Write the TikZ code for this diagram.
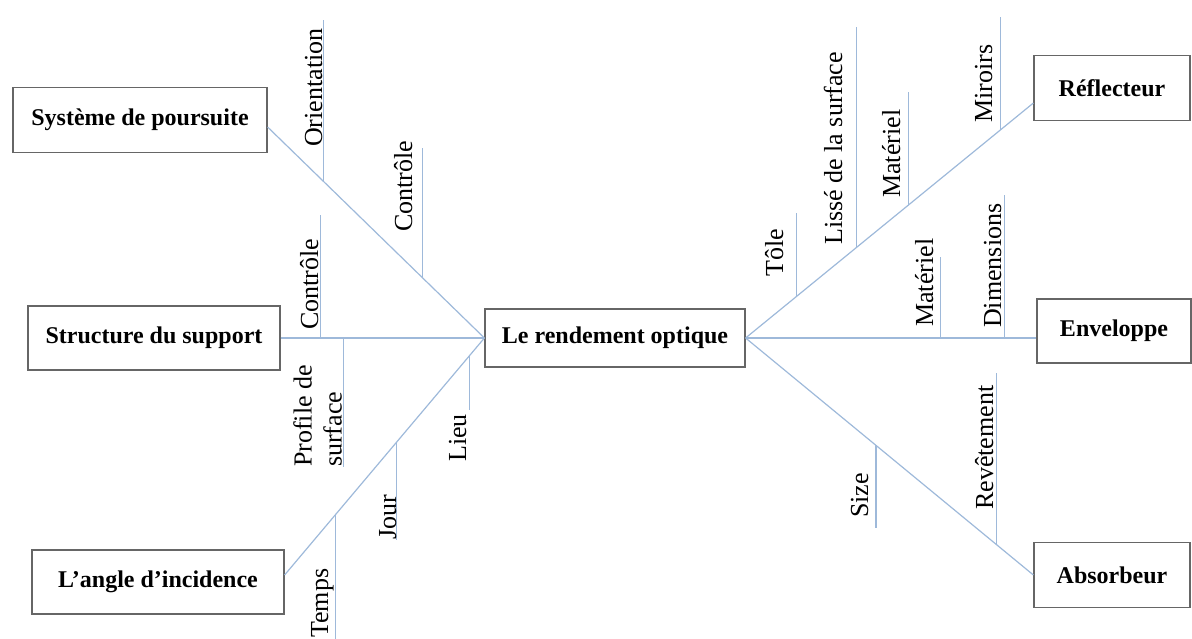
\documentclass[tikz,border=0pt]{standalone}
\usepackage{fontspec}
\setmainfont{Liberation Serif}
\usepackage{tikz}
\usetikzlibrary{
	calc,
	positioning,
}
\definecolor{bonecolor}{RGB}{158,185,218}
\tikzset{cause node/.style={
	draw=black!60,
	rectangle,
	line width=1.2pt,
	inner sep=0mm,
	minimum height=64pt,
	font=\fontsize{24}{26}\selectfont\bfseries,
},
sub node/.style={
	rotate=90,
	anchor=base west,
	inner sep=0mm,
	font=\fontsize{26}{30}\selectfont,
},
bone/.style={
	bonecolor,
	line width=1.2pt,
}}

\begin{document}
\begin{tikzpicture}[x=1pt,y=-1pt]
\useasboundingbox (0,0) rectangle (1192,639);

\node[cause node, minimum width=260pt, minimum height=58pt](eff) at (615,338) {Le rendement optique};

\node[cause node, minimum width=254pt, minimum height=65pt](sys) at (140,120) {Système de poursuite};
\node[cause node, minimum width=252pt](sup) at (154,338) {Structure du support};
\node[cause node, minimum width=252pt](ang) at (158,582) {L’angle d’incidence};
\node[cause node, minimum width=156pt, minimum height=65pt](refl) at (1112,88) {Réflecteur};
\node[cause node, minimum width=154pt](env) at (1114,331) {Enveloppe};
\node[cause node, minimum width=156pt, minimum height=65pt](abs) at (1112,575) {Absorbeur};

\coordinate (sysA) at ([yshift=-7pt]sys.east);
\coordinate (angA) at ([yshift=7pt]ang.east);
\coordinate (reflA) at ([yshift=-15pt]refl.west);
\coordinate (envA) at (eff.east -| env.west);

\draw[bone] (sysA) -- (eff.west);
\draw[bone] (sup.east) -- (eff.west);
\draw[bone] (angA) -- (eff.west);
\draw[bone] (eff.east) -- (reflA);
\draw[bone] (eff.east) -- (envA);
\draw[bone] (eff.east) -- (abs.west);

\foreach \n/\a/\b/\t/\y in {
	orient/sysA/eff.west/0.257/20,
	ctrlA/sysA/eff.west/0.716/148,
	ctrlB/sup.east/eff.west/0.195/215,
	prof/sup.east/eff.west/0.307/467,
	lieu/angA/eff.west/0.925/410,
	jour/angA/eff.west/0.562/540,
	temps/angA/eff.west/0.254/639,
	tole/eff.east/reflA/0.176/213,
	lisse/eff.east/reflA/0.384/27,
	matA/eff.east/reflA/0.567/92,
	mir/eff.east/reflA/0.886/17,
	matB/eff.east/envA/0.671/257,
	dims/eff.east/envA/0.890/195,
	size/eff.east/abs.west/0.453/528,
	revet/eff.east/abs.west/0.872/373%
}{
	\coordinate (\n) at ($(\a)!\t!(\b)$);
	\draw[bone] (\n) -- (\n |- 0,\y);
}

\foreach \n/\x/\y/\txt in {
	orient/322/147/Orientation,
	ctrlA/412/232/Contrôle,
	ctrlB/318/330/Contrôle,
	lieu/466/462/Lieu,
	jour/396/540/Jour,
	temps/328/638/Temps,
	tole/783/277/Tôle,
	lisse/842/245/Lissé de la surface,
	matA/900/198/Matériel,
	mir/992/123/Miroirs,
	matB/933/327/Matériel,
	dims/1001/328/Dimensions,
	size/868/518/Size,
	revet/993/510/Revêtement%
}{
	\node[sub node](l\n) at (\x,\y) {\txt};
}

\node[sub node, anchor=south west, align=left](lprof) at (342,467) {Profile de\\surface};

\end{tikzpicture}
\end{document}
